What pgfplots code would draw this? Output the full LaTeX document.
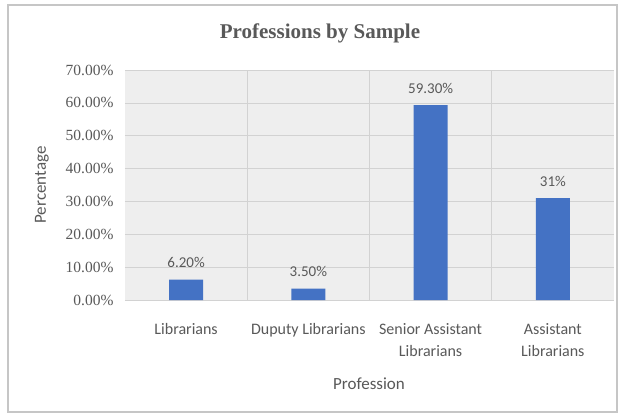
\documentclass[border=0pt]{standalone}
\usepackage{pgfplots}
\pgfplotsset{compat=1.18}
\usepackage{pgfplotstable}
\usepackage{fontspec}
\setmainfont{Liberation Serif}
\newfontfamily\labelfont{Carlito}
\definecolor{barblue}{RGB}{68,114,196}
\definecolor{txtgray}{RGB}{89,89,89}
\definecolor{plotbg}{RGB}{238,238,238}
\definecolor{gridgray}{RGB}{210,210,210}

\pgfplotstableread{
x  y     lbl
0  6.2   6.20\%
1  3.5   3.50\%
2  59.3  59.30\%
3  31    31\%
}\professions

\begin{document}
\begin{tikzpicture}[x=1pt,y=1pt]
\useasboundingbox (0,0) rectangle (625,416);
\fill[white] (0,0) rectangle (625,416);
\draw[gray!45, line width=1.2pt] (8,4) rectangle (617,411);

\begin{axis}[
  at={(125pt,116pt)}, anchor=south west,
  scale only axis, width=489pt, height=230pt,
  xmin=-0.5, xmax=3.5, ymin=0, ymax=70,
  axis background/.style={fill=plotbg},
  axis line style={draw=none},
  tick style={draw=none},
  xtick={0,1,2,3},
  xticklabels={Librarians, Duputy Librarians, Senior Assistant\\Librarians, Assistant\\Librarians},
  xticklabel style={font=\labelfont\fontsize{16}{22}\selectfont, text=txtgray, align=center, yshift=-20pt},
  minor xtick={0.5,1.5,2.5},
  minor x grid style={gridgray, line width=0.6pt},
  xminorgrids=true,
  ytick={0,10,...,70},
  ymajorgrids=true,
  major grid style={gridgray, line width=0.6pt},
  yticklabel={\pgfmathprintnumber[fixed,fixed zerofill,precision=2]{\tick}\%},
  /pgf/number format/assume math mode=true,
  yticklabel style={font=\fontsize{15.5}{18}\selectfont, text=txtgray, xshift=-8pt},
  nodes near coords,
  point meta=explicit symbolic,
  every node near coord/.append style={font=\labelfont\fontsize{15}{18}\selectfont, text=txtgray, yshift=8pt},
]
\addplot[ybar, bar width=34pt, fill=barblue, draw=none]
  table[x=x, y=y, meta=lbl] {\professions};
\end{axis}

\node[font=\bfseries\fontsize{21}{24}\selectfont, text=txtgray] at (320,383) {Professions by Sample};
\node[font=\labelfont\fontsize{17}{20}\selectfont, text=txtgray, rotate=90] at (42,231) {Percentage};
\node[font=\labelfont\fontsize{17}{20}\selectfont, text=txtgray] at (369,32) {Profession};
\end{tikzpicture}
\end{document}
